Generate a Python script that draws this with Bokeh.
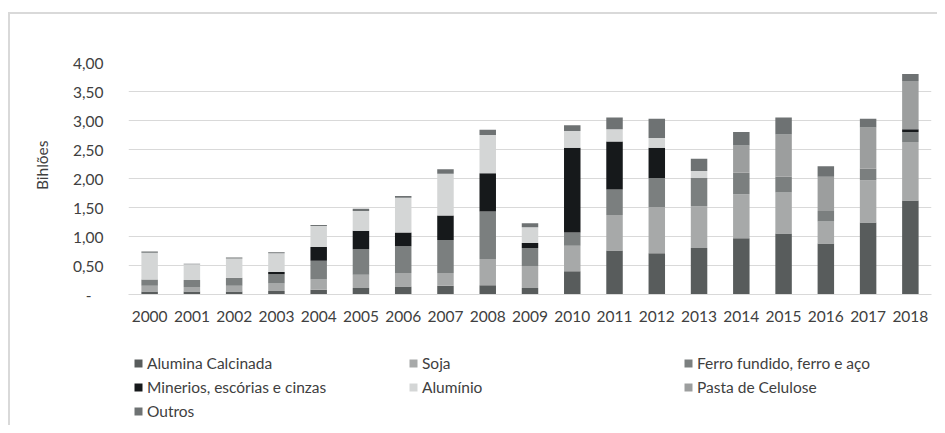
from bokeh.plotting import figure
from bokeh.layouts import column
from bokeh.models import (FactorRange, Range1d, FixedTicker, CustomJSTickFormatter,
                          Legend, LegendItem, ColumnDataSource, Title)
from bokeh.embed import file_html
from bokeh.resources import INLINE

years = ["2000", "2001", "2002", "2003", "2004", "2005", "2006", "2007", "2008", "2009",
         "2010", "2011", "2012", "2013", "2014", "2015", "2016", "2017", "2018"]

alumina   = [0.05, 0.05, 0.05, 0.06, 0.08, 0.11, 0.14, 0.15, 0.16, 0.11, 0.40, 0.76, 0.71, 0.80, 0.97, 1.05, 0.88, 1.24, 1.62]
soja      = [0.10, 0.08, 0.10, 0.13, 0.18, 0.23, 0.23, 0.22, 0.45, 0.38, 0.44, 0.61, 0.80, 0.72, 0.76, 0.71, 0.38, 0.73, 1.01]
ferro     = [0.11, 0.12, 0.14, 0.16, 0.32, 0.44, 0.46, 0.57, 0.82, 0.31, 0.23, 0.44, 0.50, 0.49, 0.37, 0.27, 0.18, 0.20, 0.17]
minerios  = [0.00, 0.00, 0.00, 0.04, 0.24, 0.32, 0.24, 0.42, 0.66, 0.09, 1.46, 0.83, 0.52, 0.00, 0.00, 0.00, 0.00, 0.00, 0.05]
aluminio  = [0.46, 0.27, 0.33, 0.32, 0.36, 0.34, 0.60, 0.72, 0.66, 0.27, 0.29, 0.21, 0.17, 0.12, 0.00, 0.00, 0.00, 0.00, 0.00]
pasta     = [0.00, 0.00, 0.00, 0.00, 0.00, 0.00, 0.00, 0.00, 0.00, 0.00, 0.00, 0.00, 0.00, 0.00, 0.47, 0.73, 0.59, 0.71, 0.83]
outros    = [0.02, 0.01, 0.02, 0.02, 0.02, 0.04, 0.03, 0.08, 0.09, 0.07, 0.10, 0.20, 0.33, 0.21, 0.23, 0.29, 0.18, 0.15, 0.12]

series_names = ["Alumina Calcinada", "Soja", "Ferro fundido, ferro e aço",
                "Minerios, escórias e cinzas", "Alumínio", "Pasta de Celulose", "Outros"]
series_keys = ["alumina", "soja", "ferro", "minerios", "aluminio", "pasta", "outros"]
colors = ["#585c5c", "#a7a9a9", "#7b7f7f", "#16191b", "#d4d6d6", "#9c9e9e", "#6e7273"]

y_ticks = [0, 0.5, 1.0, 1.5, 2.0, 2.5, 3.0, 3.5, 4.0]

FONT = "Lato"
TXT = "#404040"
GRID = "#d9d9d9"

source = ColumnDataSource(data=dict(years=years, alumina=alumina, soja=soja, ferro=ferro,
                                    minerios=minerios, aluminio=aluminio, pasta=pasta,
                                    outros=outros))

# ---- chart ----
p = figure(x_range=FactorRange(*years, range_padding=0), y_range=Range1d(0, 4),
           width=927, height=330, output_backend="svg", toolbar_location=None,
           min_border_left=117, min_border_right=6, min_border_top=48, min_border_bottom=50)
p.outline_line_color = None

renderers = p.vbar_stack(series_keys, x="years", width=0.39, source=source,
                         color=colors, line_color=None)

p.xaxis.axis_line_color = GRID
p.xaxis.major_tick_line_color = None
p.xaxis.minor_tick_line_color = None
p.xaxis.major_label_text_font = FONT
p.xaxis.major_label_text_font_size = "15.5px"
p.xaxis.major_label_text_color = TXT
p.xaxis.major_label_standoff = 10

p.yaxis.axis_line_color = None
p.yaxis.major_tick_line_color = None
p.yaxis.minor_tick_line_color = None
p.yaxis.ticker = FixedTicker(ticks=y_ticks)
p.yaxis.formatter = CustomJSTickFormatter(code=r"return tick == 0 ? '-\u00a0\u00a0\u00a0' : tick.toFixed(2).replace('.', ',');")
p.yaxis.major_label_text_font = FONT
p.yaxis.major_label_text_font_size = "15.5px"
p.yaxis.major_label_text_color = TXT
p.yaxis.major_label_standoff = 19

ytitle = Title(text="Bihlões", align="right", offset=78, standoff=40,
               text_font=FONT, text_font_size="15.5px", text_font_style="normal",
               text_color=TXT)
p.add_layout(ytitle, "left")

p.xgrid.grid_line_color = None
p.ygrid.grid_line_color = GRID
p.ygrid.ticker = FixedTicker(ticks=y_ticks)

# ---- legend strip ----
L_H = 81
pl = figure(x_range=Range1d(0, 1), y_range=Range1d(0, 1), width=927, height=L_H,
            output_backend="svg", toolbar_location=None,
            min_border_left=0, min_border_right=0, min_border_top=0, min_border_bottom=0)
pl.axis.visible = False
pl.grid.grid_line_color = None
pl.outline_line_color = None
dummies = [pl.vbar(x=[-10], top=[0], width=0.1, color=c, line_color=None) for c in colors]

cols = [[0, 3, 6], [1, 4], [2, 5]]
xs = [5, 280, 555]
top_offset = 8.5
for col, x0 in zip(cols, xs):
    n = len(col)
    h = n * 21 + (n - 1) * 3
    items = [LegendItem(label=series_names[i], renderers=[dummies[i]]) for i in col]
    leg = Legend(items=items, location=(x0, L_H - top_offset - h), orientation="vertical",
                 padding=0, margin=0, spacing=3, label_standoff=4,
                 glyph_width=10, glyph_height=10, label_height=21,
                 border_line_color=None, background_fill_alpha=0,
                 label_text_font=FONT, label_text_font_size="15.5px",
                 label_text_color=TXT)
    pl.add_layout(leg, "center")

layout = column(p, pl, spacing=0)
layout.styles = {"margin-left": "8px", "margin-top": "12px",
                 "border-left": "2px solid #d9d9d9", "border-top": "2px solid #d9d9d9"}

open("out.html", "w").write(file_html(layout, INLINE))
